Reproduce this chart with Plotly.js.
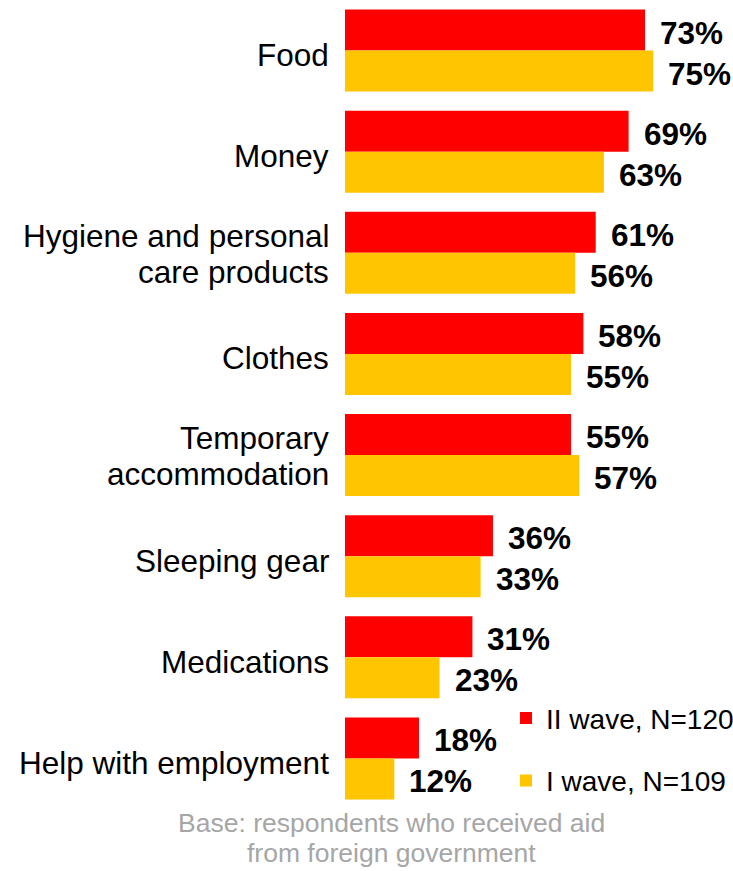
<!DOCTYPE html>
<html>
<head>
<meta charset="utf-8">
<script src="https://cdn.plot.ly/plotly-3.0.1.min.js"></script>
<style>html,body{margin:0;padding:0;background:#fff;}#chart{width:733px;height:871px;}</style>
</head>
<body>
<div id="chart"></div>
<script>
const categories = ["Food", "Money", "Hygiene and personal<br>care products", "Clothes", "Temporary<br>accommodation", "Sleeping gear", "Medications", "Help with employment"];
const wave2 = [73, 69, 61, 58, 55, 36, 31, 18];
const wave1 = [75, 63, 56, 55, 57, 33, 23, 12];
const seriesNames = ["II wave, N=120", "I wave, N=109"];
const footnoteLines = ["Base: respondents who received aid", "from foreign government"];

const FONT = "Liberation Sans, Arial, sans-serif";
const red = "#FF0000", yellow = "#FFC600";
const traces = [
  {type: "bar", orientation: "h", y: categories, x: wave2, name: seriesNames[0], legendgroup: "a",
   marker: {color: red}, hoverinfo: "skip"},
  {type: "bar", orientation: "h", y: categories, x: wave1, name: seriesNames[1], legendgroup: "b",
   marker: {color: yellow}, hoverinfo: "skip"}
];

const annotations = [];
const labelFont = {family: FONT, size: 31.5, color: "#000"};
categories.forEach((c, i) => {
  const lines = c.split("<br>");
  const shifts = lines.length === 1 ? [-4.5] : [17, -19];
  lines.forEach((ln, k) => {
    annotations.push({x: 0, y: c, xref: "paper", yref: "y", text: ln, showarrow: false,
      xanchor: "right", yanchor: "middle", xshift: -14, yshift: shifts[k], font: labelFont});
  });
  annotations.push({x: wave2[i], y: c, xref: "x", yref: "y", text: "<b>" + wave2[i] + "%</b>",
    showarrow: false, xanchor: "left", yanchor: "middle", xshift: 13, yshift: 18, font: labelFont});
  annotations.push({x: wave1[i], y: c, xref: "x", yref: "y", text: "<b>" + wave1[i] + "%</b>",
    showarrow: false, xanchor: "left", yanchor: "middle", xshift: 13, yshift: -23, font: labelFont});
});
footnoteLines.forEach((ln, k) => {
  annotations.push({x: 0.119, y: 0, xref: "paper", yref: "paper", xanchor: "center", yanchor: "middle",
    yshift: -14 - 30 * k, text: ln, showarrow: false,
    font: {family: FONT, size: 26.5, color: "#A6A6A6"}});
});

const layout = {
  width: 733, height: 871,
  margin: {l: 345, r: 0, t: 0, b: 62, autoexpand: false},
  paper_bgcolor: "#fff", plot_bgcolor: "#fff",
  barmode: "group", bargap: 0.19, bargroupgap: 0,
  font: {family: FONT, color: "#000"},
  xaxis: {range: [0, 94.4], visible: false, showgrid: false, zeroline: false, fixedrange: true},
  yaxis: {autorange: "reversed", showgrid: false, zeroline: false, showline: false, ticks: "",
    showticklabels: false, fixedrange: true},
  showlegend: true,
  legend: {x: 0.415, y: 0.143, xanchor: "left", yanchor: "top", traceorder: "grouped",
    tracegroupgap: 23, itemwidth: 30, font: {size: 28, color: "#000"}, bgcolor: "rgba(0,0,0,0)"},
  annotations: annotations
};

Plotly.newPlot("chart", traces, layout, {displayModeBar: false, staticPlot: true});
</script>
</body>
</html>
